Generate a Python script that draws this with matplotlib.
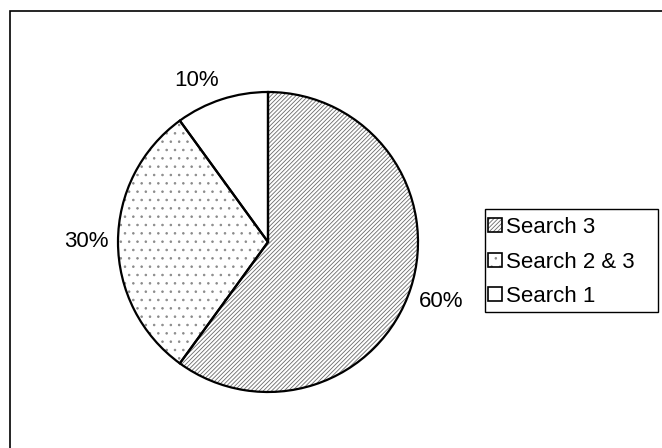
import numpy as np
import matplotlib
matplotlib.use("Agg")
import matplotlib.pyplot as plt
from matplotlib.patches import Patch, Rectangle
from matplotlib.legend_handler import HandlerTuple

plt.rcParams['font.family'] = ['Liberation Sans', 'DejaVu Sans']
plt.rcParams['hatch.linewidth'] = 0.6

# shares of the three searches, drawn clockwise from 12 o'clock
labels = ['Search 3', 'Search 2 & 3', 'Search 1']
shares = [60, 30, 10]
hatches = ['////////', '..', '']
hatch_colors = ['#6a6a6a', '#8a8a8a', '#6a6a6a']

fig = plt.figure(figsize=(6.62, 4.48), dpi=100)
ax = fig.add_axes([0, 0, 1, 1])

cx, cy, r = 268, 206, 150

# fill layer: hatching in grey
fills, _ = ax.pie(shares, startangle=90, counterclock=False, center=(cx, cy),
                  radius=r, colors=['white'] * 3,
                  wedgeprops=dict(linewidth=0))
for w, h, hc in zip(fills, hatches, hatch_colors):
    w.set_edgecolor(hc)
    w.set_linewidth(0)
    w.set_hatch(h)

# outline layer: thick black edges
outlines, _ = ax.pie(shares, startangle=90, counterclock=False, center=(cx, cy),
                     radius=r, colors=['none'] * 3,
                     wedgeprops=dict(linewidth=1.6, edgecolor='black', fill=False))

# percentage labels just outside the rim
for w, v in zip(outlines, shares):
    ang = np.deg2rad((w.theta1 + w.theta2) / 2)
    c, s = np.cos(ang), np.sin(ang)
    d = r * 1.06
    ha = 'left' if c > 0 else 'right'
    if s > 0.1:
        va = 'bottom'
    elif s < -0.1:
        va = 'top'
    else:
        va = 'center'
    ax.text(cx + d * c, cy + d * s, f'{v}%', ha=ha, va=va, fontsize=16)

ax.set_xlim(0, 662)
ax.set_ylim(0, 448)
ax.set_aspect('equal')
ax.axis('off')

# outer chart border (runs off the right and bottom)
ax.add_patch(Rectangle((10, -20), 700, 448 - 11 + 20, fill=False,
                       edgecolor='black', linewidth=1.2, clip_on=False))

handles = []
for h, hc in zip(hatches, hatch_colors):
    handles.append((Patch(facecolor='white', edgecolor=hc, hatch=h, linewidth=0),
                    Patch(facecolor='none', edgecolor='black', linewidth=1.2)))

# legend box
ax.add_patch(Rectangle((485, 448 - 312), 173, 103, fill=False,
                       edgecolor='black', linewidth=1.0))
leg = ax.legend(handles, labels, loc='center left',
                bbox_to_anchor=(486, 448 - 262), bbox_transform=ax.transData,
                fontsize=16, frameon=False,
                handlelength=0.6, handleheight=0.6, handletextpad=0.2,
                labelspacing=0.6, borderpad=0.1, borderaxespad=0,
                handler_map={tuple: HandlerTuple(ndivide=1)})

fig.savefig('out.png', dpi=100)
